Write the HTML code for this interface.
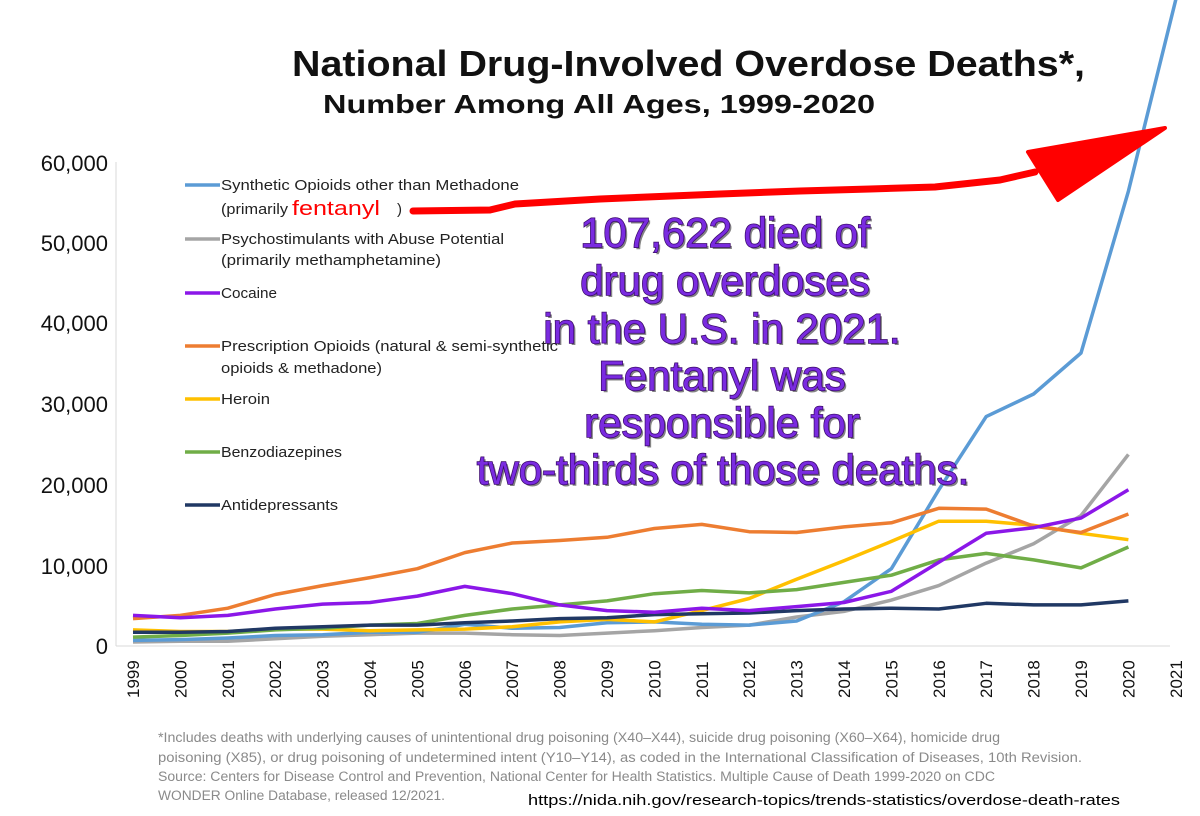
<!DOCTYPE html>
<html><head><meta charset="utf-8"><style>
html,body{margin:0;padding:0;background:#fff;}
svg{display:block;}
text{font-family:"Liberation Sans",sans-serif;}
</style></head><body>
<svg id="s" width="1200" height="816" viewBox="0 0 1200 816" xmlns="http://www.w3.org/2000/svg">
<text x="292" y="76" font-size="36" font-weight="bold" fill="#111" textLength="793" lengthAdjust="spacingAndGlyphs">National Drug-Involved Overdose Deaths*,</text>
<text x="323" y="113" font-size="26" font-weight="bold" fill="#111" textLength="552" lengthAdjust="spacingAndGlyphs">Number Among All Ages, 1999-2020</text>
<g font-size="22" fill="#111" text-anchor="end">
<text x="108" y="171">60,000</text><text x="108" y="251">50,000</text><text x="108" y="331">40,000</text>
<text x="108" y="412">30,000</text><text x="108" y="493">20,000</text><text x="108" y="574">10,000</text><text x="108" y="654">0</text>
</g>
<line x1="116" y1="162" x2="116" y2="646" stroke="#d8d8d8" stroke-width="1"/>
<line x1="116" y1="646" x2="1170" y2="646" stroke="#d8d8d8" stroke-width="1"/>
<g id="xl" font-size="17" fill="#111"></g>
<g id="lines" fill="none" stroke-width="3.5" stroke-linejoin="round"></g>
<g font-size="15" fill="#222">
<line x1="185" y1="185" x2="220" y2="185" stroke="#5b9bd5" stroke-width="3.5"/>
<text x="221" y="190" textLength="298" lengthAdjust="spacingAndGlyphs">Synthetic Opioids other than Methadone</text>
<text x="221" y="214" textLength="67" lengthAdjust="spacingAndGlyphs">(primarily</text><text x="292" y="215" font-size="20" fill="#f00" textLength="88" lengthAdjust="spacingAndGlyphs">fentanyl</text><text x="397" y="214">)</text>
<line x1="185" y1="239" x2="220" y2="239" stroke="#a5a5a5" stroke-width="3.5"/>
<text x="221" y="244" textLength="283" lengthAdjust="spacingAndGlyphs">Psychostimulants with Abuse Potential</text>
<text x="221" y="265" textLength="220" lengthAdjust="spacingAndGlyphs">(primarily methamphetamine)</text>
<line x1="185" y1="293" x2="220" y2="293" stroke="#8b17e8" stroke-width="3.5"/>
<text x="221" y="298" textLength="56" lengthAdjust="spacingAndGlyphs">Cocaine</text>
<line x1="185" y1="346" x2="220" y2="346" stroke="#ed7d31" stroke-width="3.5"/>
<text x="221" y="351" textLength="337" lengthAdjust="spacingAndGlyphs">Prescription Opioids (natural &amp; semi-synthetic</text>
<text x="221" y="373" textLength="161" lengthAdjust="spacingAndGlyphs">opioids &amp; methadone)</text>
<line x1="185" y1="399" x2="220" y2="399" stroke="#ffc000" stroke-width="3.5"/>
<text x="221" y="404" textLength="49" lengthAdjust="spacingAndGlyphs">Heroin</text>
<line x1="185" y1="452" x2="220" y2="452" stroke="#70ad47" stroke-width="3.5"/>
<text x="221" y="457" textLength="121" lengthAdjust="spacingAndGlyphs">Benzodiazepines</text>
<line x1="185" y1="505" x2="220" y2="505" stroke="#203864" stroke-width="3.5"/>
<text x="221" y="510" textLength="117" lengthAdjust="spacingAndGlyphs">Antidepressants</text>
</g>
<polyline points="413,211 490,210 515,204 600,199 720,194 800,191 870,189 935,187 1000,180 1035,172" fill="none" stroke="#f00" stroke-width="7" stroke-linecap="round" stroke-linejoin="round"/>
<polygon points="1028,152 1165,128 1058,200" fill="#f00" stroke="#f00" stroke-width="4" stroke-linejoin="round"/>
<g font-size="42" fill="#7a2be0" text-anchor="middle" style="paint-order:stroke" stroke="#3a0a6a" stroke-width="1.5">
<g transform="translate(2,2)" fill="#333" stroke="none" opacity="0.6">
<text x="725" y="247">107,622 died of</text><text x="725" y="295">drug overdoses</text><text x="722" y="343">in the U.S. in 2021.</text>
<text x="722" y="390">Fentanyl was</text><text x="722" y="437">responsible for</text><text x="723" y="484">two-thirds of those deaths.</text>
</g>
<text x="725" y="247">107,622 died of</text><text x="725" y="295">drug overdoses</text><text x="722" y="343">in the U.S. in 2021.</text>
<text x="722" y="390">Fentanyl was</text><text x="722" y="437">responsible for</text><text x="723" y="484">two-thirds of those deaths.</text>
</g>
<g font-size="13.5" fill="#8a8a8a">
<text x="158" y="742" textLength="842" lengthAdjust="spacingAndGlyphs">*Includes deaths with underlying causes of unintentional drug poisoning (X40–X44), suicide drug poisoning (X60–X64), homicide drug</text>
<text x="158" y="762" textLength="924" lengthAdjust="spacingAndGlyphs">poisoning (X85), or drug poisoning of undetermined intent (Y10–Y14), as coded in the International Classification of Diseases, 10th Revision.</text>
<text x="158" y="781" textLength="837" lengthAdjust="spacingAndGlyphs">Source: Centers for Disease Control and Prevention, National Center for Health Statistics. Multiple Cause of Death 1999-2020 on CDC</text>
<text x="158" y="800" textLength="287" lengthAdjust="spacingAndGlyphs">WONDER Online Database, released 12/2021.</text>
</g>
<text x="528" y="805" font-size="15" fill="#000" textLength="592" lengthAdjust="spacingAndGlyphs">https://nida.nih.gov/research-topics/trends-statistics/overdose-death-rates</text>
</svg>
<script>
var NS="http://www.w3.org/2000/svg";
function X(i){return 133+47.4*i;}
function Y(v){return 646-v*8.05;}
var series=[
["#a5a5a5",[0.5,0.6,0.6,0.9,1.2,1.4,1.6,1.6,1.4,1.3,1.6,1.9,2.3,2.6,3.6,4.3,5.7,7.5,10.3,12.7,16.2,23.8]],
["#5b9bd5",[0.7,0.8,1.0,1.3,1.4,1.7,1.7,2.7,2.2,2.3,2.9,3.0,2.7,2.6,3.1,5.5,9.6,19.4,28.5,31.3,36.4,56.5,80.3]],
["#ffc000",[2.0,1.8,1.8,2.1,2.1,1.9,2.0,2.1,2.4,3.0,3.3,3.0,4.4,5.9,8.3,10.6,13.0,15.5,15.5,15.0,14.0,13.2]],
["#70ad47",[1.1,1.3,1.6,2.0,2.2,2.6,2.8,3.8,4.6,5.1,5.6,6.5,6.9,6.6,7.0,7.9,8.8,10.7,11.5,10.7,9.7,12.3]],
["#203864",[1.7,1.7,1.8,2.2,2.4,2.6,2.6,2.9,3.1,3.4,3.5,3.9,4.0,4.1,4.4,4.6,4.7,4.6,5.3,5.1,5.1,5.6]],
["#ed7d31",[3.4,3.8,4.7,6.4,7.5,8.5,9.6,11.6,12.8,13.1,13.5,14.6,15.1,14.2,14.1,14.8,15.3,17.1,17.0,14.9,14.1,16.4]],
["#8b17e8",[3.8,3.5,3.8,4.6,5.2,5.4,6.2,7.4,6.5,5.1,4.4,4.2,4.7,4.4,4.9,5.4,6.8,10.4,14.0,14.7,15.9,19.4]]
];
var g=document.getElementById("lines");
series.forEach(function(s){var p=document.createElementNS(NS,"polyline");
p.setAttribute("points",s[1].map(function(v,i){return X(i).toFixed(1)+","+Y(v).toFixed(1);}).join(" "));
p.setAttribute("stroke",s[0]);g.appendChild(p);});
var xl=document.getElementById("xl");
for(var i=0;i<=22;i++){var t=document.createElementNS(NS,"text");
var x=X(i)+6,y=698;t.setAttribute("x",x);t.setAttribute("y",y);
t.setAttribute("transform","rotate(-90 "+x+" "+y+")");t.textContent=1999+i;xl.appendChild(t);}
</script>
</body></html>
